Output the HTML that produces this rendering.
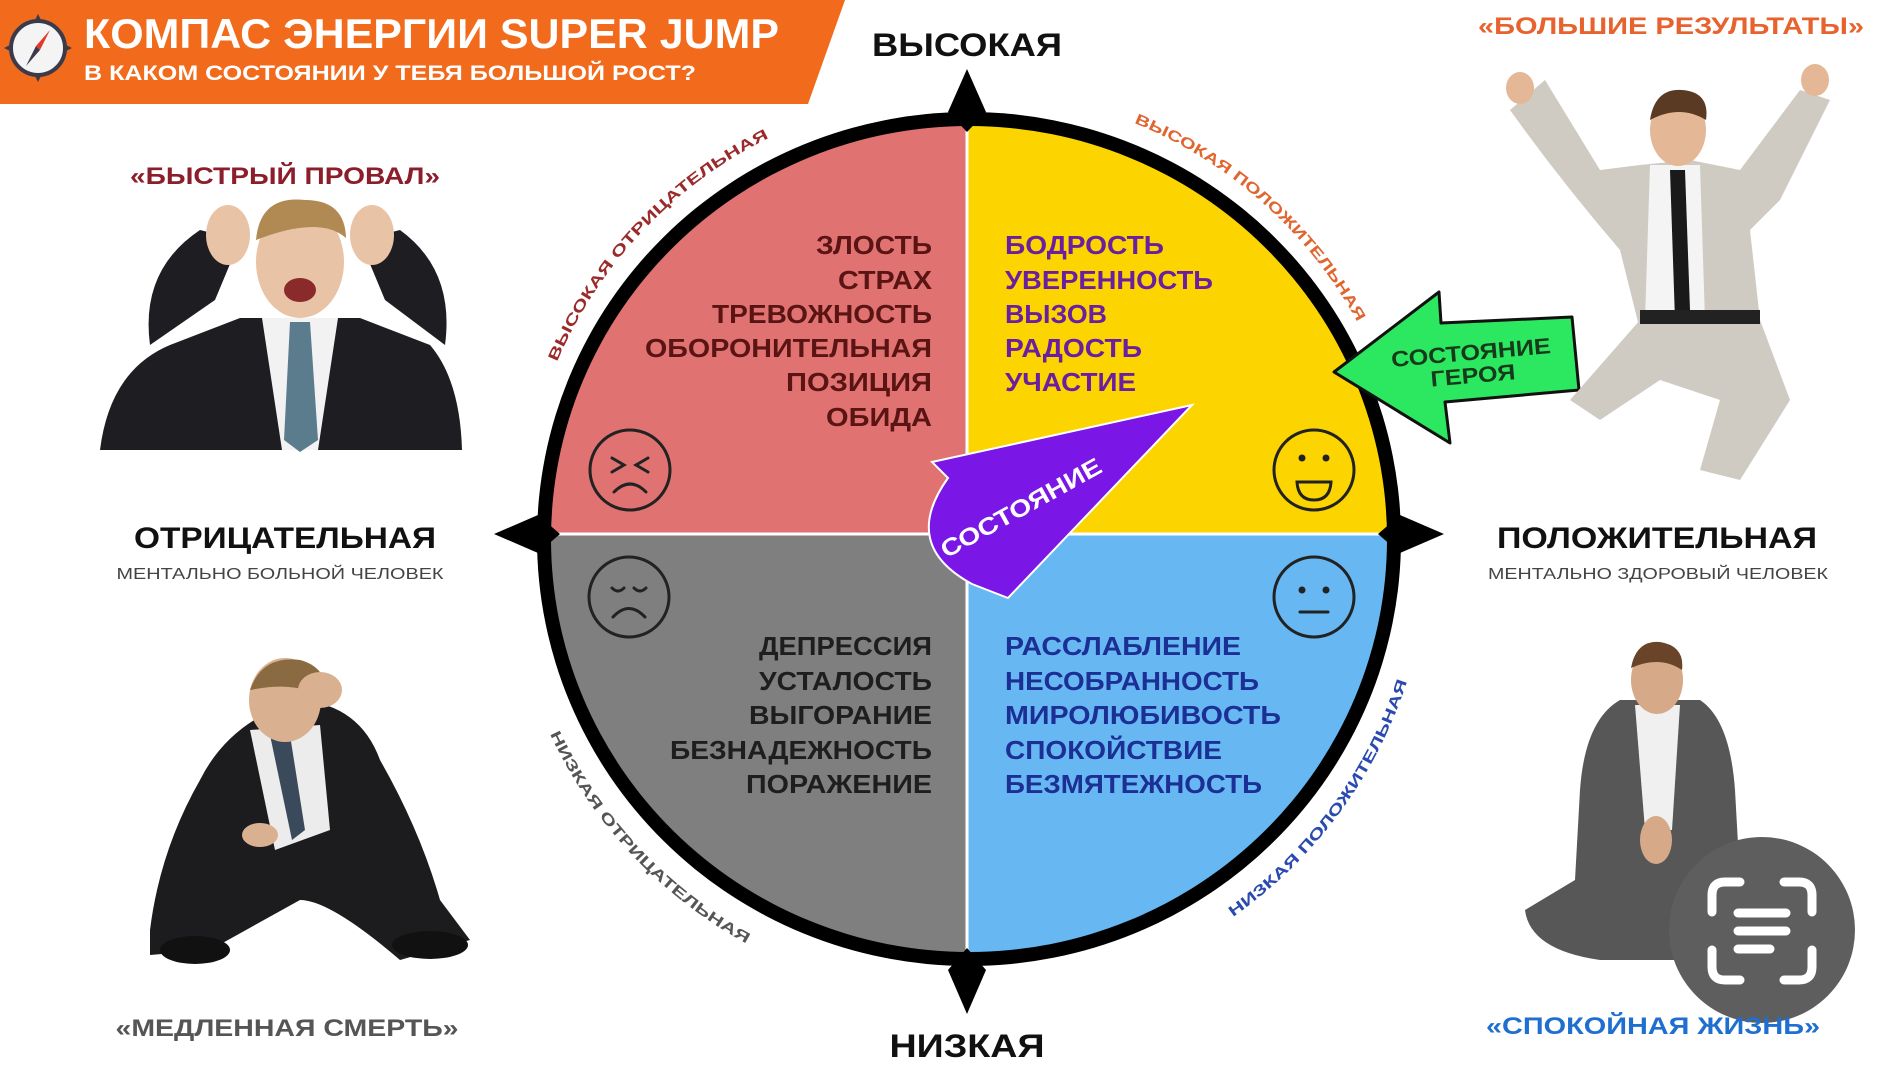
<!DOCTYPE html>
<html><head><meta charset="utf-8"><style>
html,body{margin:0;padding:0;background:#fff;}
svg{display:block;}
text{font-family:"Liberation Sans","DejaVu Sans",sans-serif;font-weight:bold;}
</style></head><body>
<svg width="1898" height="1067" viewBox="0 0 1898 1067" xmlns="http://www.w3.org/2000/svg">
<defs>
<clipPath id="circ"><ellipse cx="969" cy="539" rx="418" ry="413"/></clipPath>
<path id="a1" d="M557,362 A445,445 0 0 1 779,133"/>
<path id="a2" d="M1134,123 A445,445 0 0 1 1360,327"/>
<path id="a3" d="M550,734 A462,462 0 0 0 751,946"/>
<path id="a4" d="M1233,917 A462,462 0 0 0 1410,672"/>
</defs>
<rect width="1898" height="1067" fill="#fff"/>

<polygon points="0,0 845,0 808,104 0,104" fill="#f26a1b"/>
<circle cx="38" cy="48" r="27" fill="#f4f4f4" stroke="#3a3a4a" stroke-width="4"/>
<polygon points="38,14 42,22 34,22" fill="#3a3a4a"/><polygon points="38,82 42,74 34,74" fill="#3a3a4a"/>
<polygon points="4,48 12,44 12,52" fill="#3a3a4a"/><polygon points="72,48 64,44 64,52" fill="#3a3a4a"/>
<polygon points="50,30 40,50 36,46" fill="#e03a2a"/><polygon points="26,66 36,46 40,50" fill="#3a3a4a"/>
<text x="84" y="48" font-size="42" fill="#fff" textLength="695" lengthAdjust="spacingAndGlyphs">КОМПАС ЭНЕРГИИ SUPER JUMP</text>
<text x="84" y="80" font-size="21" fill="#fff" textLength="612" lengthAdjust="spacingAndGlyphs">В КАКОМ СОСТОЯНИИ У ТЕБЯ БОЛЬШОЙ РОСТ?</text>

<ellipse cx="969" cy="539" rx="432" ry="427" fill="#000"/>
<g clip-path="url(#circ)">
<rect x="500" y="90" width="467" height="444" fill="#e07272"/>
<rect x="967" y="90" width="470" height="444" fill="#fcd500"/>
<rect x="500" y="534" width="467" height="460" fill="#7f7f7f"/>
<rect x="967" y="534" width="470" height="460" fill="#67b8f2"/>
<line x1="967" y1="90" x2="967" y2="1000" stroke="#fff" stroke-width="3"/>
<line x1="500" y1="534" x2="1440" y2="534" stroke="#fff" stroke-width="3"/>
</g>
<polygon points="967,69 986,112 967,132 948,112" fill="#000"/>
<polygon points="967,1014 986,970 967,948 948,970" fill="#000"/>
<polygon points="494,534 538,515 560,534 538,553" fill="#000"/>
<polygon points="1444,534 1400,515 1378,534 1400,553" fill="#000"/>

<text x="967" y="56" font-size="32" fill="#111" text-anchor="middle" textLength="190" lengthAdjust="spacingAndGlyphs">ВЫСОКАЯ</text>
<text x="967" y="1057" font-size="32" fill="#111" text-anchor="middle" textLength="155" lengthAdjust="spacingAndGlyphs">НИЗКАЯ</text>

<text font-size="15" fill="#9b2a2a"><textPath href="#a1" textLength="315" lengthAdjust="spacingAndGlyphs">ВЫСОКАЯ ОТРИЦАТЕЛЬНАЯ</textPath></text>
<text font-size="15" fill="#e0652f"><textPath href="#a2" textLength="305" lengthAdjust="spacingAndGlyphs">ВЫСОКАЯ ПОЛОЖИТЕЛЬНАЯ</textPath></text>
<text font-size="15" fill="#555"><textPath href="#a3" textLength="292" lengthAdjust="spacingAndGlyphs">НИЗКАЯ ОТРИЦАТЕЛЬНАЯ</textPath></text>
<text font-size="15" fill="#2a4ab0"><textPath href="#a4" textLength="298" lengthAdjust="spacingAndGlyphs">НИЗКАЯ ПОЛОЖИТЕЛЬНАЯ</textPath></text>

<g font-size="26" fill="#5a1414" text-anchor="end">
<text x="932" y="254" textLength="116" lengthAdjust="spacingAndGlyphs">ЗЛОСТЬ</text>
<text x="932" y="289" textLength="94" lengthAdjust="spacingAndGlyphs">СТРАХ</text>
<text x="932" y="323" textLength="220" lengthAdjust="spacingAndGlyphs">ТРЕВОЖНОСТЬ</text>
<text x="932" y="357" textLength="287" lengthAdjust="spacingAndGlyphs">ОБОРОНИТЕЛЬНАЯ</text>
<text x="932" y="391" textLength="146" lengthAdjust="spacingAndGlyphs">ПОЗИЦИЯ</text>
<text x="932" y="426" textLength="106" lengthAdjust="spacingAndGlyphs">ОБИДА</text>
</g>
<g font-size="26" fill="#6a1fa0">
<text x="1005" y="254" textLength="159" lengthAdjust="spacingAndGlyphs">БОДРОСТЬ</text>
<text x="1005" y="289" textLength="208" lengthAdjust="spacingAndGlyphs">УВЕРЕННОСТЬ</text>
<text x="1005" y="323" textLength="102" lengthAdjust="spacingAndGlyphs">ВЫЗОВ</text>
<text x="1005" y="357" textLength="137" lengthAdjust="spacingAndGlyphs">РАДОСТЬ</text>
<text x="1005" y="391" textLength="131" lengthAdjust="spacingAndGlyphs">УЧАСТИЕ</text>
</g>
<g font-size="26" fill="#1e1e1e" text-anchor="end">
<text x="932" y="655" textLength="173" lengthAdjust="spacingAndGlyphs">ДЕПРЕССИЯ</text>
<text x="932" y="690" textLength="173" lengthAdjust="spacingAndGlyphs">УСТАЛОСТЬ</text>
<text x="932" y="724" textLength="183" lengthAdjust="spacingAndGlyphs">ВЫГОРАНИЕ</text>
<text x="932" y="759" textLength="262" lengthAdjust="spacingAndGlyphs">БЕЗНАДЕЖНОСТЬ</text>
<text x="932" y="793" textLength="186" lengthAdjust="spacingAndGlyphs">ПОРАЖЕНИЕ</text>
</g>
<g font-size="26" fill="#1b2f94">
<text x="1005" y="655" textLength="236" lengthAdjust="spacingAndGlyphs">РАССЛАБЛЕНИЕ</text>
<text x="1005" y="690" textLength="254" lengthAdjust="spacingAndGlyphs">НЕСОБРАННОСТЬ</text>
<text x="1005" y="724" textLength="276" lengthAdjust="spacingAndGlyphs">МИРОЛЮБИВОСТЬ</text>
<text x="1005" y="759" textLength="217" lengthAdjust="spacingAndGlyphs">СПОКОЙСТВИЕ</text>
<text x="1005" y="793" textLength="257" lengthAdjust="spacingAndGlyphs">БЕЗМЯТЕЖНОСТЬ</text>
</g>

<g fill="none" stroke="#222" stroke-width="3" stroke-linecap="round">
<circle cx="630" cy="470" r="40"/>
<path d="M612,458 L624,465 L612,472 M648,458 L636,465 L648,472"/>
<path d="M614,492 Q630,476 646,492"/>
<circle cx="1314" cy="470" r="40"/>
<path d="M1297,482 L1331,482 Q1330,500 1314,500 Q1298,500 1297,482 Z"/>
<circle cx="629" cy="597" r="40"/>
<path d="M612,588 Q618,594 624,588 M634,588 Q640,594 646,588"/>
<path d="M613,617 Q629,600 645,617"/>
<circle cx="1314" cy="597" r="40"/>
<path d="M1300,612 L1328,612"/>
</g>
<g fill="#222"><circle cx="1302" cy="458" r="3.5"/><circle cx="1326" cy="458" r="3.5"/><circle cx="1302" cy="590" r="3.5"/><circle cx="1326" cy="590" r="3.5"/></g>

<path d="M1192,405 L932,462 L948,478 Q900,545 972,584 L1008,598 Z" fill="#7a16e6" stroke="#fff" stroke-width="2"/>
<text x="0" y="0" font-size="24" fill="#fff" text-anchor="middle" textLength="180" lengthAdjust="spacingAndGlyphs" transform="translate(1025,515) rotate(-29)">СОСТОЯНИЕ</text>

<polygon points="1334,372 1439,292 1441,323 1572,317 1579,390 1445,402 1450,443" fill="#2ce860" stroke="#111" stroke-width="3" stroke-linejoin="round"/>
<g transform="rotate(-5 1472 365)" fill="#173a1a" text-anchor="middle">
<text x="1472" y="360" font-size="22" textLength="160" lengthAdjust="spacingAndGlyphs">СОСТОЯНИЕ</text>
<text x="1472" y="383" font-size="22" textLength="85" lengthAdjust="spacingAndGlyphs">ГЕРОЯ</text>
</g>

<text x="285" y="184" font-size="24" fill="#8b1e2a" text-anchor="middle" textLength="310" lengthAdjust="spacingAndGlyphs">«БЫСТРЫЙ ПРОВАЛ»</text>
<text x="1671" y="34" font-size="24" fill="#e8622e" text-anchor="middle" textLength="386" lengthAdjust="spacingAndGlyphs">«БОЛЬШИЕ РЕЗУЛЬТАТЫ»</text>
<text x="285" y="548" font-size="30" fill="#111" text-anchor="middle" textLength="302" lengthAdjust="spacingAndGlyphs">ОТРИЦАТЕЛЬНАЯ</text>
<text x="280" y="579" font-size="16" fill="#444" text-anchor="middle" textLength="327" lengthAdjust="spacingAndGlyphs" style="font-weight:normal">МЕНТАЛЬНО БОЛЬНОЙ ЧЕЛОВЕК</text>
<text x="1657" y="548" font-size="30" fill="#111" text-anchor="middle" textLength="320" lengthAdjust="spacingAndGlyphs">ПОЛОЖИТЕЛЬНАЯ</text>
<text x="1658" y="579" font-size="16" fill="#444" text-anchor="middle" textLength="340" lengthAdjust="spacingAndGlyphs" style="font-weight:normal">МЕНТАЛЬНО ЗДОРОВЫЙ ЧЕЛОВЕК</text>
<text x="287" y="1036" font-size="24" fill="#555" text-anchor="middle" textLength="343" lengthAdjust="spacingAndGlyphs">«МЕДЛЕННАЯ СМЕРТЬ»</text>

<g>
<path d="M100,450 Q110,370 170,345 L240,318 L360,318 L430,345 Q460,380 462,450 Z" fill="#1d1d22"/>
<path d="M150,345 Q140,270 200,230 L240,240 L215,300 Z" fill="#1d1d22"/>
<path d="M445,345 Q455,270 400,230 L360,240 L385,300 Z" fill="#1d1d22"/>
<polygon points="262,318 338,318 318,450 282,450" fill="#f2f2f2"/>
<polygon points="290,322 310,322 318,440 300,452 284,440" fill="#5a7c8c"/>
<ellipse cx="300" cy="262" rx="44" ry="56" fill="#e9c3a6"/>
<path d="M256,240 Q260,195 305,200 Q345,200 346,238 Q320,215 256,240 Z" fill="#b08a52"/>
<ellipse cx="300" cy="290" rx="16" ry="12" fill="#8a2a2a"/>
<ellipse cx="228" cy="235" rx="22" ry="30" fill="#e9c3a6"/>
<ellipse cx="372" cy="235" rx="22" ry="30" fill="#e9c3a6"/>
</g>

<g>
<path d="M150,930 Q160,850 200,780 Q230,720 300,700 Q360,705 380,760 Q420,830 440,900 L470,940 L400,960 Q330,900 300,900 L210,950 L150,955 Z" fill="#1c1c1e"/>
<polygon points="250,730 320,725 330,830 275,850" fill="#ececec"/>
<polygon points="270,735 290,735 305,830 292,840" fill="#3a4a5a"/>
<ellipse cx="285" cy="700" rx="36" ry="42" fill="#d9b090"/>
<path d="M250,690 Q262,655 300,660 Q330,668 325,700 Q300,680 250,690 Z" fill="#8a6a40"/>
<ellipse cx="320" cy="690" rx="22" ry="18" fill="#d9b090"/>
<ellipse cx="260" cy="835" rx="18" ry="12" fill="#d9b090"/>
<ellipse cx="195" cy="950" rx="35" ry="14" fill="#111"/>
<ellipse cx="430" cy="945" rx="38" ry="14" fill="#111"/>
</g>

<g>
<path d="M1510,110 L1545,80 L1600,170 L1640,165 L1690,160 L1740,170 L1800,90 L1830,100 L1780,200 L1750,230 L1760,320 L1700,340 L1640,330 L1620,250 Q1560,180 1510,110 Z" fill="#cfcbc3"/>
<polygon points="1650,165 1700,165 1705,320 1645,320" fill="#f4f4f4"/>
<polygon points="1670,170 1685,170 1690,310 1675,320" fill="#1a1a1a"/>
<path d="M1640,320 L1760,320 L1790,400 L1740,480 L1700,470 L1720,400 L1660,380 L1600,420 L1570,400 Z" fill="#cfcbc3"/>
<rect x="1640" y="310" width="120" height="14" fill="#222"/>
<ellipse cx="1678" cy="130" rx="28" ry="36" fill="#e4b896"/>
<path d="M1650,120 Q1655,88 1682,90 Q1710,92 1706,120 Q1680,104 1650,120 Z" fill="#5a3a22"/>
<ellipse cx="1520" cy="88" rx="14" ry="16" fill="#e4b896"/>
<ellipse cx="1815" cy="80" rx="14" ry="16" fill="#e4b896"/>
</g>

<g>
<path d="M1580,790 Q1585,720 1620,700 L1700,700 Q1730,720 1735,790 L1740,880 L1770,910 Q1760,960 1700,960 L1600,960 Q1530,950 1525,910 L1575,880 Z" fill="#575757"/>
<polygon points="1635,705 1680,705 1672,830 1645,830" fill="#f0f0f0"/>
<ellipse cx="1657" cy="680" rx="26" ry="34" fill="#d6aa88"/>
<path d="M1631,668 Q1636,640 1660,642 Q1685,646 1682,670 Q1660,655 1631,668 Z" fill="#6a4428"/>
<ellipse cx="1656" cy="840" rx="16" ry="24" fill="#d6aa88"/>
</g>

<circle cx="1762" cy="930" r="93" fill="#5e5e5e"/>
<g fill="none" stroke="#fff" stroke-width="9" stroke-linecap="round">
<path d="M1712,912 L1712,895 Q1712,882 1725,882 L1740,882"/>
<path d="M1784,882 L1799,882 Q1812,882 1812,895 L1812,912"/>
<path d="M1712,950 L1712,967 Q1712,980 1725,980 L1740,980"/>
<path d="M1784,980 L1799,980 Q1812,980 1812,967 L1812,950"/>
<path d="M1738,913 L1786,913 M1738,931 L1786,931 M1738,949 L1770,949"/>
</g>
<text x="1653" y="1034" font-size="24" fill="#1f6fd0" text-anchor="middle" textLength="334" lengthAdjust="spacingAndGlyphs">«СПОКОЙНАЯ ЖИЗНЬ»</text>
</svg>
</body></html>
